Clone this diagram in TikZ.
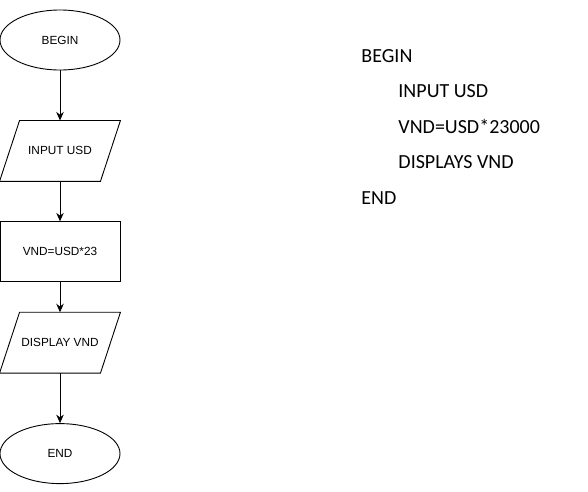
\documentclass[tikz,border=0pt]{standalone}
\usepackage{fontspec}
\setmainfont{Liberation Sans}
\newfontfamily\notefont{Carlito}
\usetikzlibrary{arrows.meta,positioning,shapes.geometric}

\begin{document}
\begin{tikzpicture}[
  x=1pt, y=-1pt,
  every node/.style={font=\fontsize{11.8}{13}\selectfont},
  terminal/.style={draw, ellipse, minimum width=120pt, minimum height=60pt, inner sep=0pt},
  io/.style={rectangle, minimum width=120pt, minimum height=60pt, inner sep=0pt},
  slant/.style={line width=0.9pt, line join=miter},
  process/.style={draw, rectangle, minimum width=120pt, minimum height=60pt, inner sep=0pt},
  code/.style={anchor=base west, inner sep=0pt, font=\notefont\fontsize{20}{24}\selectfont},
  arrow/.style={-{Stealth[length=8.5pt,width=7.5pt]}, line width=0.9pt}
]
\useasboundingbox (0,0) rectangle (588,491);
\tikzset{every path/.style={line width=0.9pt}}

% flowchart
\node[terminal] (begin) at (60,40) {BEGIN};
\node[io, below=50pt of begin] (input) {INPUT USD};
\node[process, below=40pt of input] (calc) {VND=USD*23};
\node[io, below=30pt of calc] (display) {DISPLAY VND};
\node[terminal, below=50pt of display] (end) {END};

% parallelograms
\draw[slant] ([xshift=20pt]input.north west) -- (input.north east)
  -- ([xshift=-20pt]input.south east) -- (input.south west) -- cycle;
\draw[slant] ([xshift=20pt]display.north west) -- (display.north east)
  -- ([xshift=-20pt]display.south east) -- (display.south west) -- cycle;

\draw[arrow] (begin) -- (input);
\draw[arrow] (input) -- (calc);
\draw[arrow] (calc) -- (display);
\draw[arrow] (display) -- (end);

% pseudocode
\node[code] (cbegin) at (361,62) {BEGIN};
\node[code] (cinput) at (398,97.5) {INPUT USD};
\node[code] (ccalc) at (398,133) {VND=USD*23000};
\node[code] (cdisp) at (398,168.5) {DISPLAYS VND};
\node[code] (cend) at (361,204) {END};
\end{tikzpicture}
\end{document}
